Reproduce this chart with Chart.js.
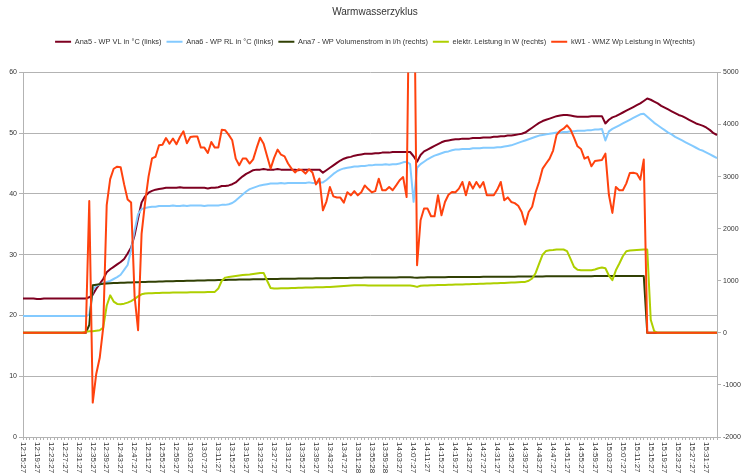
<!DOCTYPE html>
<html>
<head>
<meta charset="utf-8">
<title>Warmwasserzyklus</title>
<script src="https://cdn.jsdelivr.net/npm/chart.js@4.4.1/dist/chart.umd.min.js"></script>
<style>
  html, body { margin: 0; padding: 0; background: #fff; }
</style>
</head>
<body>
<canvas id="plot" width="750" height="476"></canvas>
<script>
// x axis: one sample per minute, a label on every 4th sample
const tickLabels = [
    '12:15:27', '12:19:27', '12:23:27', '12:27:27', '12:31:27', '12:35:27', '12:39:27', '12:43:27',
    '12:47:27', '12:51:27', '12:55:27', '12:59:27', '13:03:27', '13:07:27', '13:11:27', '13:15:27',
    '13:19:27', '13:23:27', '13:27:27', '13:31:27', '13:35:27', '13:39:27', '13:43:27', '13:47:27',
    '13:51:28', '13:55:28', '13:59:28', '14:03:27', '14:07:27', '14:11:27', '14:15:27', '14:19:27',
    '14:23:27', '14:27:27', '14:31:27', '14:35:27', '14:39:27', '14:43:27', '14:47:27', '14:51:27',
    '14:55:27', '14:59:27', '15:03:27', '15:07:27', '15:11:27', '15:15:27', '15:19:27', '15:23:27',
    '15:27:27', '15:31:27'
];

// Ana5 - WP VL in °C (links)
const vorlauf = [
    22.8, 22.8, 22.8, 22.8, 22.7, 22.7, 22.8, 22.8, 22.8, 22.8,
    22.8, 22.8, 22.8, 22.8, 22.8, 22.8, 22.8, 22.8, 22.8, 23.0,
    23.4, 24.4, 25.2, 26.0, 27.1, 27.6, 28.0, 28.4, 28.8, 29.3,
    30.2, 31.2, 33.2, 36.0, 38.6, 39.6, 40.2, 40.5, 40.7, 40.8,
    40.9, 41.0, 41.0, 41.0, 41.0, 41.1, 41.0, 41.0, 41.0, 41.0,
    41.0, 41.0, 41.0, 40.9, 41.0, 41.0, 41.1, 41.3, 41.3, 41.4,
    41.6, 41.9, 42.4, 42.9, 43.3, 43.6, 43.9, 44.0, 44.0, 44.1,
    44.0, 44.0, 44.0, 44.1, 44.0, 44.0, 44.0, 44.0, 44.0, 43.9,
    44.0, 44.0, 44.0, 44.0, 44.0, 44.0, 43.5, 43.9, 44.3, 44.7,
    45.1, 45.5, 45.8, 46.0, 46.1, 46.3, 46.4, 46.5, 46.6, 46.6,
    46.6, 46.7, 46.7, 46.8, 46.8, 46.8, 46.9, 46.9, 46.9, 46.9,
    46.9, 46.9, 46.2, 45.3, 46.4, 47.0, 47.3, 47.6, 47.9, 48.2,
    48.5, 48.7, 48.8, 48.9, 49.0, 49.0, 49.1, 49.1, 49.1, 49.2,
    49.2, 49.2, 49.3, 49.3, 49.3, 49.4, 49.4, 49.5, 49.5, 49.6,
    49.6, 49.7, 49.8, 49.9, 50.1, 50.5, 50.9, 51.3, 51.7, 52.0,
    52.2, 52.4, 52.6, 52.8, 52.9, 53.0, 53.0, 52.9, 52.8, 52.7,
    52.7, 52.7, 52.7, 52.8, 52.8, 52.8, 52.8, 51.6, 52.2, 52.6,
    52.8, 53.1, 53.4, 53.7, 54.0, 54.3, 54.6, 54.9, 55.3, 55.7,
    55.5, 55.2, 54.9, 54.5, 54.2, 53.9, 53.6, 53.3, 53.0, 52.8,
    52.5, 52.2, 51.9, 51.6, 51.4, 51.2, 50.9, 50.5, 50.0, 49.7
];

// Ana6 - WP RL in °C (links)
const ruecklauf = [
    19.9, 19.9, 19.9, 19.9, 19.9, 19.9, 19.9, 19.9, 19.9, 19.9,
    19.9, 19.9, 19.9, 19.9, 19.9, 19.9, 19.9, 19.9, 19.9, 20.1,
    24.2, 24.9, 25.1, 25.3, 25.5, 25.7, 26.0, 26.3, 26.7, 27.5,
    28.3, 30.8, 34.0, 36.7, 37.5, 37.7, 37.8, 37.9, 37.9, 38.0,
    38.0, 38.0, 38.0, 38.1, 38.0, 38.0, 38.1, 38.0, 38.1, 38.1,
    38.1, 38.1, 38.0, 38.1, 38.1, 38.1, 38.1, 38.2, 38.2, 38.3,
    38.5, 38.9, 39.4, 39.9, 40.4, 40.8, 41.0, 41.2, 41.4, 41.5,
    41.6, 41.7, 41.7, 41.7, 41.8, 41.7, 41.8, 41.8, 41.8, 41.8,
    41.8, 41.8, 41.9, 41.8, 41.8, 41.9, 41.9, 42.3, 42.8, 43.3,
    43.7, 44.0, 44.2, 44.3, 44.4, 44.5, 44.5, 44.6, 44.6, 44.7,
    44.7, 44.8, 44.8, 44.8, 44.9, 44.8, 44.9, 44.9, 45.0, 45.2,
    45.3, 44.9, 38.7, 44.3, 44.9, 45.3, 45.7, 46.0, 46.3, 46.5,
    46.7, 46.9, 47.0, 47.2, 47.3, 47.3, 47.4, 47.4, 47.4, 47.5,
    47.5, 47.5, 47.6, 47.6, 47.6, 47.6, 47.7, 47.7, 47.8, 47.9,
    48.0, 48.2, 48.4, 48.6, 48.8, 49.0, 49.2, 49.4, 49.6, 49.7,
    49.8, 49.9, 50.0, 50.1, 50.1, 50.2, 50.2, 50.3, 50.3, 50.4,
    50.4, 50.4, 50.5, 50.5, 50.6, 50.6, 50.7, 48.8, 50.3, 50.7,
    51.0, 51.3, 51.6, 51.9, 52.2, 52.5, 52.8, 53.1, 53.2, 52.7,
    52.2, 51.7, 51.3, 50.9, 50.5, 50.1, 49.8, 49.4, 49.1, 48.8,
    48.5, 48.2, 47.9, 47.6, 47.3, 47.1, 46.8, 46.5, 46.2, 45.9
];

// Ana7 - WP Volumenstrom in l/h (rechts)
const volumenstrom = [
    0, 0, 0, 0, 0, 0, 0, 0, 0, 0,
    0, 0, 0, 0, 0, 0, 0, 0, 0, 150,
    915, 925, 935, 940, 945, 950, 955, 958, 960, 963,
    965, 968, 970, 972, 975, 977, 980, 982, 983, 985,
    986, 988, 990, 991, 993, 995, 996, 998, 1000, 1001,
    1003, 1005, 1006, 1008, 1010, 1011, 1013, 1015, 1016, 1018,
    1020, 1021, 1022, 1024, 1025, 1026, 1028, 1029, 1030, 1031,
    1032, 1033, 1034, 1035, 1036, 1037, 1038, 1039, 1040, 1041,
    1042, 1043, 1044, 1045, 1046, 1047, 1048, 1049, 1050, 1051,
    1052, 1053, 1054, 1055, 1056, 1057, 1058, 1059, 1060, 1060,
    1061, 1061, 1062, 1062, 1063, 1063, 1064, 1064, 1065, 1065,
    1066, 1066, 1060, 1058, 1062, 1064, 1066, 1067, 1068, 1068,
    1069, 1069, 1070, 1070, 1071, 1071, 1072, 1072, 1073, 1073,
    1074, 1074, 1075, 1075, 1076, 1076, 1077, 1077, 1078, 1078,
    1079, 1079, 1080, 1080, 1081, 1081, 1082, 1082, 1083, 1083,
    1084, 1084, 1085, 1085, 1085, 1086, 1086, 1086, 1087, 1087,
    1087, 1088, 1088, 1088, 1089, 1089, 1089, 1089, 1090, 1090,
    1090, 1090, 1090, 1091, 1091, 1091, 1091, 1092, 1090, 0,
    0, 0, 0, 0, 0, 0, 0, 0, 0, 0,
    0, 0, 0, 0, 0, 0, 0, 0, 0, 0
];

// elektr. Leistung in W (rechts)
const elektrLeistung = [
    0, 0, 0, 0, 0, 0, 0, 0, 0, 0,
    0, 0, 0, 0, 0, 0, 0, 0, 20, 30,
    30, 40, 50, 100, 520, 720, 600, 555, 550, 560,
    580, 610, 650, 700, 740, 755, 760, 762, 764, 766,
    768, 770, 771, 772, 773, 774, 775, 776, 777, 778,
    779, 780, 781, 783, 784, 786, 850, 1000, 1060, 1070,
    1080, 1090, 1100, 1110, 1115, 1120, 1130, 1140, 1150, 1150,
    1000, 860, 850, 852, 854, 856, 858, 860, 862, 864,
    866, 868, 870, 872, 874, 876, 877, 878, 880, 885,
    890, 895, 900, 905, 910, 912, 913, 913, 912, 911,
    910, 909, 909, 909, 909, 909, 909, 909, 909, 909,
    909, 909, 900, 882, 905, 909, 910, 912, 914, 916,
    918, 920, 922, 924, 926, 928, 930, 932, 934, 936,
    938, 940, 942, 945, 948, 951, 953, 956, 959, 962,
    965, 968, 971, 974, 978, 1000, 1043, 1150, 1330, 1500,
    1573, 1585, 1590, 1600, 1600, 1600, 1570, 1420, 1266, 1210,
    1203, 1203, 1203, 1203, 1215, 1240, 1254, 1240, 1100, 1011,
    1200, 1330, 1470, 1567, 1580, 1585, 1590, 1595, 1600, 1600,
    250, 30, 0, 0, 0, 0, 0, 0, 0, 0,
    0, 0, 0, 0, 0, 0, 0, 0, 0, 0
];

// kW1 - WMZ Wp Leistung in W (rechts)
const wmzLeistung = [
    0, 0, 0, 0, 0, 0, 0, 0, 0, 0,
    0, 0, 0, 0, 0, 0, 0, 0, 0, 2530,
    -1340, -790, -480, 100, 2450, 2950, 3150, 3190, 3180, 2850,
    2560, 2500, 700, 50, 1900, 2500, 3000, 3350, 3380, 3600,
    3610, 3740, 3630, 3730, 3620, 3760, 3870, 3640, 3760, 3770,
    3770, 3556, 3556, 3452, 3663, 3556, 3556, 3900, 3888, 3800,
    3696, 3345, 3216, 3345, 3345, 3250, 3330, 3550, 3747, 3632,
    3390, 3153, 3360, 3517, 3420, 3389, 3250, 3153, 3080, 3140,
    3120, 3057, 3140, 3080, 2850, 2961, 2353, 2520, 2800, 2620,
    2597, 2597, 2500, 2700, 2640, 2720, 2640, 2700, 2830, 2760,
    2700, 2720, 2960, 2737, 2737, 2800, 2737, 2830, 2930, 2990,
    2608, 8000, 8000, 1298, 2161, 2386, 2386, 2238, 2238, 2641,
    2257, 2513, 2650, 2704, 2700, 2769, 2896, 2641, 2896, 2769,
    2896, 2790, 2896, 2641, 2641, 2641, 2750, 2896, 2545, 2600,
    2513, 2490, 2440, 2321, 2080, 2321, 2420, 2700, 2900, 3153,
    3250, 3345, 3500, 3800, 3880, 3920, 3984, 3900, 3747, 3581,
    3530, 3345, 3380, 3197, 3300, 3310, 3320, 3440, 2650, 2302,
    2800, 2737, 2737, 2870, 3069, 3075, 3057, 2942, 3326, 0,
    0, 0, 0, 0, 0, 0, 0, 0, 0, 0,
    0, 0, 0, 0, 0, 0, 0, 0, 0, 0
];

const categories = vorlauf.map((v, i) => (i % 4 === 0 && tickLabels[i / 4]) || '');

const fontFamily = "'Liberation Sans', Arial, sans-serif";
const textColor = '#333333';
const gridColor = '#b3b3b3';

Chart.defaults.font.family = fontFamily;
Chart.defaults.color = textColor;

// gives the legend the empty band below it, as in the original
const legendGap = {
    id: 'legendGap',
    beforeInit(chart) {
        const fit = chart.legend.fit;
        chart.legend.fit = function () {
            fit.call(this);
            this.height += 17;
        };
    }
};

// time labels read top to bottom
const timeLabels = {
    id: 'timeLabels',
    afterDraw(chart) {
        const { ctx, chartArea, scales } = chart;
        ctx.save();
        ctx.font = '8px ' + fontFamily;
        ctx.fillStyle = textColor;
        ctx.textAlign = 'left';
        ctx.textBaseline = 'middle';
        categories.forEach((label, i) => {
            if (!label) return;
            ctx.save();
            ctx.translate(scales.x.getPixelForValue(i), chartArea.bottom + 5);
            ctx.rotate(Math.PI / 2);
            ctx.fillText(label, 0, 0);
            ctx.restore();
        });
        ctx.restore();
    }
};

function line(label, data, color, axis) {
    return {
        label: label,
        data: data,
        yAxisID: axis,
        borderColor: color,
        backgroundColor: color,
        borderWidth: 2,
        borderJoinStyle: 'round',
        pointRadius: 0,
        tension: 0
    };
}

const ctx = document.getElementById('plot').getContext('2d');
const chartObject = new Chart(ctx, {
    type: 'line',
    data: {
        labels: categories,
        // last dataset lies at the bottom, so the order is reversed here and in the legend
        datasets: [
            line('kW1 - WMZ Wp Leistung in W(rechts)', wmzLeistung, '#ff420e', 'yR'),
            line('elektr. Leistung in W (rechts)', elektrLeistung, '#aecf00', 'yR'),
            line('Ana7 - WP Volumenstrom in l/h (rechts)', volumenstrom, '#314004', 'yR'),
            line('Ana6 - WP RL in °C (links)', ruecklauf, '#83caff', 'yL'),
            line('Ana5 - WP VL in °C (links)', vorlauf, '#7e0021', 'yL')
        ]
    },
    options: {
        responsive: false,
        animation: false,
        layout: { padding: 0 },
        plugins: {
            title: {
                display: true,
                text: 'Warmwasserzyklus',
                color: textColor,
                font: { size: 10, weight: 'normal' },
                padding: { top: 6, bottom: 15 }
            },
            legend: {
                reverse: true,
                labels: {
                    usePointStyle: true,
                    pointStyle: 'line',
                    pointStyleWidth: 16,
                    padding: 5,
                    color: textColor,
                    font: { size: 7.4 }
                }
            },
            tooltip: { enabled: false }
        },
        scales: {
            x: {
                type: 'category',
                offset: false,
                afterFit(scale) { scale.height = 39; },
                grid: {
                    drawOnChartArea: false,
                    drawTicks: true,
                    tickLength: 3,
                    color: gridColor
                },
                border: { color: gridColor },
                ticks: { display: false }
            },
            yL: {
                position: 'left',
                min: 0,
                max: 60,
                afterFit(scale) { scale.width = 23; },
                grid: { color: gridColor, tickLength: 4 },
                border: { color: gridColor },
                ticks: { stepSize: 10, padding: 2, font: { size: 7 }, color: textColor }
            },
            yR: {
                position: 'right',
                min: -2000,
                max: 5000,
                afterFit(scale) { scale.width = 33; },
                grid: { drawOnChartArea: false, tickLength: 4, color: gridColor },
                border: { color: gridColor },
                ticks: {
                    stepSize: 1000,
                    padding: 2,
                    font: { size: 7 },
                    color: textColor,
                    callback: value => String(value)
                }
            }
        }
    },
    plugins: [legendGap, timeLabels]
});
</script>
</body>
</html>
